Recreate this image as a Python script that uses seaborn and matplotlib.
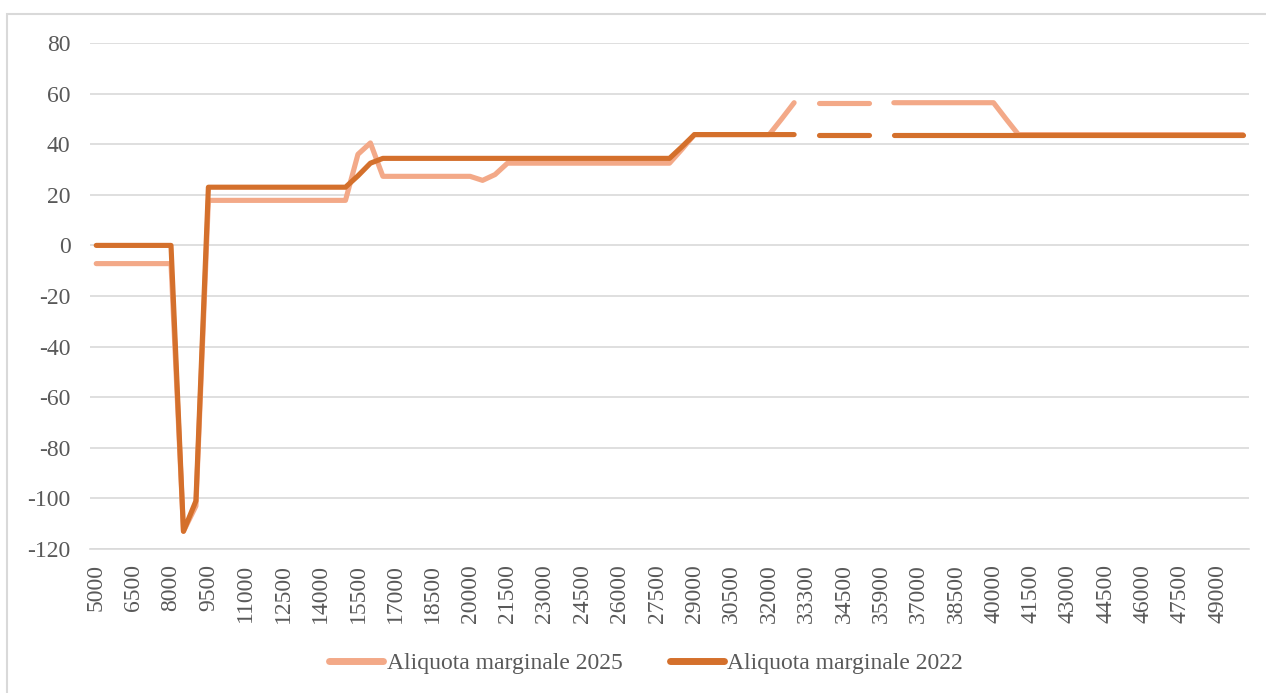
import numpy as np
import pandas as pd
import matplotlib
matplotlib.use('Agg')
import matplotlib.pyplot as plt
from matplotlib.patches import Rectangle
import seaborn as sns

# Income categories (x axis, categorical)
redditi = [5000, 5500, 6000, 6500, 7000, 7500, 8000, 8500, 9000, 9500,
           10000, 10500, 11000, 11500, 12000, 12500, 13000, 13500, 14000, 14500,
           15000, 15500, 16000, 16500, 17000, 17500, 18000, 18500, 19000, 19500,
           20000, 20500, 21000, 21500, 22000, 22500, 23000, 23500, 24000, 24500,
           25000, 25500, 26000, 26500, 27000, 27500, 28000, 28500, 29000, 29500,
           30000, 30500, 31000, 31500, 32000, 32500, 33000, 33300, 33500, 34000,
           34500, 35000, 35500, 35900, 36000, 36500, 37000, 37500, 38000, 38500,
           39000, 39500, 40000, 40500, 41000, 41500, 42000, 42500, 43000, 43500,
           44000, 44500, 45000, 45500, 46000, 46500, 47000, 47500, 48000, 48500,
           49000, 49500, 50000]

nan = np.nan
aliquota_2025 = ([-7.2] * 7 + [-113, -103] + [17.8] * 12 + [36, 40.5] + [27.3] * 8
                 + [25.7, 28] + [32.5] * 14 + [38] + [43.8] * 7 + [50, 56.4, nan]
                 + [56.4] * 5 + [nan] + [56.4] * 9 + [50] + [43.8] * 19)
aliquota_2022 = ([0] * 7 + [-113, -101] + [23] * 12 + [27.5, 32.5] + [34.4] * 24
                 + [39] + [43.8] * 9 + [nan] + [43.8] * 5 + [nan] + [43.8] * 29)

nomi = ['Aliquota marginale 2025', 'Aliquota marginale 2022']
colori = ['#F3A988', '#D4702C']

# long format, with a segment id so blanks stay as gaps (like Excel)
rows = []
for nome, vals in zip(nomi, [aliquota_2025, aliquota_2022]):
    seg = 0
    for i, v in enumerate(vals):
        if np.isnan(v):
            seg += 1
            continue
        rows.append({'pos': i, 'valore': v, 'serie': nome, 'seg': seg})
df = pd.DataFrame(rows)

sns.set_style('white')
plt.rcParams['font.family'] = ['Liberation Serif', 'DejaVu Serif']
plt.rcParams['axes.unicode_minus'] = False

fig = plt.figure(figsize=(12.66, 6.93), dpi=100)
ax = fig.add_axes([90 / 1266, 1 - 549 / 693, (1249 - 90) / 1266, (549 - 43) / 693])

sns.lineplot(data=df, x='pos', y='valore', hue='serie', units='seg', estimator=None,
             hue_order=nomi, palette=colori, linewidth=3.7, ax=ax, legend=False,
             solid_capstyle='round', solid_joinstyle='round')

ax.set_xlim(-0.5, len(redditi) - 0.5)
ax.set_ylim(-120, 80)
ax.set_yticks(range(-120, 81, 20))
ax.yaxis.grid(True, color='#D9D9D9', linewidth=1.2)
ax.set_axisbelow(True)
ax.set_xticks(range(0, len(redditi), 3))
ax.set_xticklabels([str(r) for r in redditi[::3]], rotation=90)
ax.tick_params(axis='both', length=0, labelsize=17, labelcolor='#595959')
ax.tick_params(axis='y', pad=14)
ax.tick_params(axis='x', pad=11)
ax.set_xlabel('')
ax.set_ylabel('')
for s in ['top', 'right', 'left']:
    ax.spines[s].set_visible(False)
ax.spines['bottom'].set_color('#D9D9D9')
ax.spines['bottom'].set_linewidth(1.2)

handles = [plt.Line2D([], [], color=c, linewidth=5, solid_capstyle='round') for c in colori]
fig.legend(handles, nomi, loc='center', bbox_to_anchor=(646 / 1266, 1 - 663 / 693),
           ncol=2, frameon=False, fontsize=17, labelcolor='#595959',
           handlelength=2.3, handletextpad=0.15, columnspacing=2.0)

# chart border (Excel style)
fig.patches.append(Rectangle((7 / 1266, -0.1), 1.2, 1 - 14 / 693 + 0.1,
                             transform=fig.transFigure, fill=False,
                             edgecolor='#D9D9D9', linewidth=1.5))

fig.savefig('out.png', dpi=100)
